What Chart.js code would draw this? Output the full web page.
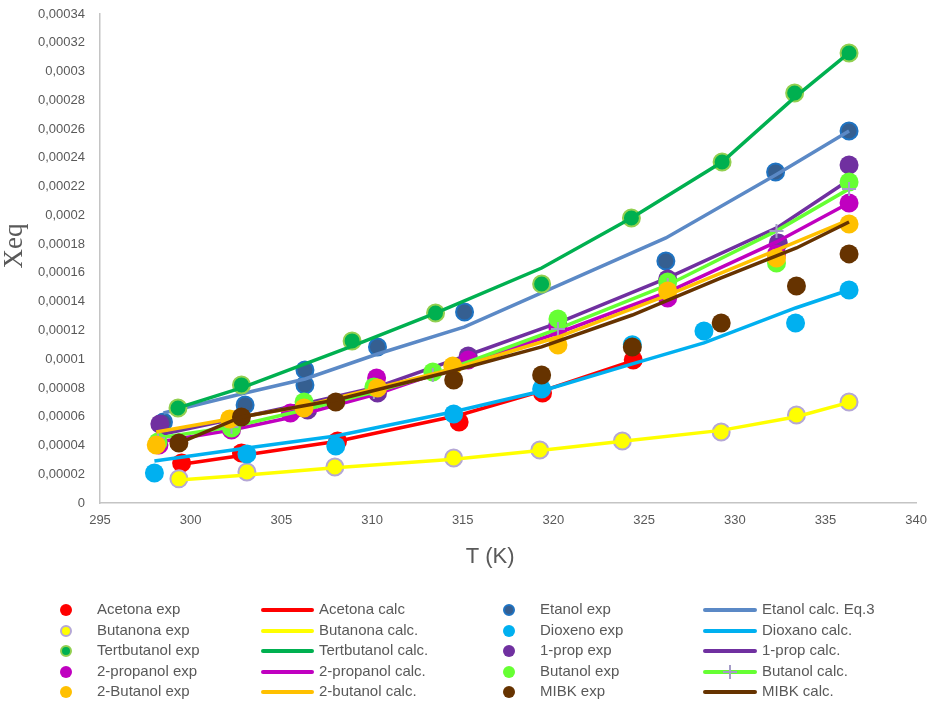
<!DOCTYPE html>
<html>
<head>
<meta charset="utf-8">
<script src="https://cdn.jsdelivr.net/npm/chart.js@4.4.1/dist/chart.umd.min.js"></script>
<style>
  body { margin: 0; background: #fff; }
  #wrap { position: relative; width: 937px; height: 704px; }
  #legend { position: absolute; left: 0; top: 0; width: 937px; height: 704px; }
  .lg-text { position: absolute; height: 20px; line-height: 20px; font: 15px "Liberation Sans", Arial, sans-serif; color: #595959; white-space: nowrap; }
  .lg-dot { position: absolute; width: 12px; height: 12px; border-radius: 50%; box-sizing: border-box; }
  .lg-line { position: absolute; height: 4px; border-radius: 2px; }
  .lg-plus { position: absolute; background: #a59cc8; }
</style>
</head>
<body>
<div id="wrap">
  <canvas id="myChart" width="937" height="590"></canvas>
  <div id="legend"></div>
</div>
<script>
// temperatures (K) and solubilities per solvent
const tAcetona = [299.5, 302.8, 308.1, 314.8, 319.4, 324.4];
const acetonaExp = [2.78e-5, 3.48e-5, 4.31e-5, 5.63e-5, 7.65e-5, 9.94e-5];
const acetonaCalc = [2.7e-5, 3.3e-5, 4.3e-5, 6.1e-5, 7.8e-5, 9.9e-5];

const tEtanol = [298.5, 303.0, 306.3, 306.3, 310.3, 315.1, 326.2, 332.25, 336.3];
const etanolExp = [5.63e-5, 6.81e-5, 8.21e-5, 9.25e-5, 1.085e-4, 1.328e-4, 1.683e-4, 2.302e-4, 2.587e-4];
const tEtanolCalc = [298.5, 303.0, 306.3, 310.3, 315.1, 326.2, 332.25, 336.3];
const etanolCalc = [6.26e-5, 7.65e-5, 8.62e-5, 1.036e-4, 1.224e-4, 1.843e-4, 2.281e-4, 2.587e-4];

const tButanona = [299.35, 303.1, 307.95, 314.5, 319.25, 323.8, 329.25, 333.4, 336.3];
const butanonaExp = [1.68e-5, 2.16e-5, 2.5e-5, 3.13e-5, 3.69e-5, 4.31e-5, 4.94e-5, 6.12e-5, 7.02e-5];
const butanonaCalc = [1.6e-5, 1.95e-5, 2.45e-5, 3.05e-5, 3.65e-5, 4.3e-5, 5.05e-5, 6.0e-5, 7.0e-5];

const tDioxano = [298.0, 303.1, 308.0, 314.5, 319.35, 324.35, 328.3, 333.35, 336.3];
const dioxenoExp = [2.09e-5, 3.41e-5, 3.96e-5, 6.19e-5, 7.93e-5, 1.1e-4, 1.196e-4, 1.252e-4, 1.481e-4];
const dioxanoCalc = [2.92e-5, 3.82e-5, 4.66e-5, 6.35e-5, 7.79e-5, 9.67e-5, 1.113e-4, 1.356e-4, 1.481e-4];

const tTertbutanol = [299.3, 302.8, 308.9, 313.5, 319.35, 324.3, 329.3, 333.3, 336.3];
const tertbutanolExp = [6.61e-5, 8.21e-5, 1.127e-4, 1.321e-4, 1.523e-4, 1.982e-4, 2.371e-4, 2.851e-4, 3.129e-4];
const tertbutanolCalc = [6.61e-5, 8.0e-5, 1.09e-4, 1.321e-4, 1.634e-4, 1.982e-4, 2.371e-4, 2.82e-4, 3.129e-4];

const t1prop = [298.3, 306.45, 310.3, 315.3, 320.25, 326.3, 332.4, 336.3];
const prop1Exp = [5.49e-5, 6.47e-5, 7.65e-5, 1.022e-4, 1.245e-4, 1.558e-4, 1.808e-4, 2.35e-4];
const prop1Calc = [4.75e-5, 6.95e-5, 8.07e-5, 1.029e-4, 1.252e-4, 1.565e-4, 1.919e-4, 2.246e-4];

const t2propanol = [298.25, 302.25, 305.5, 310.25, 315.3, 320.25, 326.3, 332.3, 336.3];
const propanol2Exp = [4.03e-5, 5.08e-5, 6.26e-5, 8.69e-5, 9.94e-5, 1.217e-4, 1.426e-4, 1.732e-4, 2.086e-4];
const propanol2Calc = [4.24e-5, 5.08e-5, 5.95e-5, 7.58e-5, 9.74e-5, 1.182e-4, 1.467e-4, 1.815e-4, 2.086e-4];

const tButanol = [298.2, 302.25, 306.25, 310.1, 313.35, 320.25, 326.3, 332.3, 336.3];
const butanolExp = [4.24e-5, 5.22e-5, 7.02e-5, 8.07e-5, 9.11e-5, 1.28e-4, 1.537e-4, 1.669e-4, 2.232e-4];
const butanolCalc = [4.52e-5, 5.29e-5, 6.47e-5, 7.72e-5, 8.9e-5, 1.21e-4, 1.516e-4, 1.892e-4, 2.184e-4];

const t2butanol = [298.1, 302.15, 306.25, 310.3, 314.45, 320.25, 326.3, 332.3, 336.3];
const butanol2Exp = [4.03e-5, 5.84e-5, 6.61e-5, 8.0e-5, 9.53e-5, 1.099e-4, 1.474e-4, 1.704e-4, 1.94e-4];
const butanol2Calc = [4.94e-5, 5.84e-5, 6.75e-5, 8.0e-5, 9.32e-5, 1.154e-4, 1.446e-4, 1.759e-4, 1.968e-4];

const tMibk = [299.35, 302.8, 308.0, 314.5, 319.35, 324.35, 329.25, 333.4, 336.3];
const mibkExp = [4.17e-5, 5.98e-5, 7.02e-5, 8.55e-5, 8.9e-5, 1.085e-4, 1.252e-4, 1.509e-4, 1.732e-4];
const mibkCalc = [4.17e-5, 5.98e-5, 7.16e-5, 9.2e-5, 1.085e-4, 1.307e-4, 1.565e-4, 1.773e-4, 1.954e-4];

const xTicks = { min: 295, max: 340, step: 5 };
const yTicks = { min: 0, max: 0.00034, step: 0.00002 };

const pts = (xs, ys) => xs.map((x, i) => ({ x: x, y: ys[i] }));

function exp(label, xs, ys, fill, border) {
  return {
    label: label,
    data: pts(xs, ys),
    showLine: false,
    backgroundColor: fill,
    borderColor: border || fill,
    pointRadius: border ? 8.5 : 9.5,
    pointBorderWidth: border ? 2 : 0,
    pointHoverRadius: 9.5
  };
}

function calc(label, xs, ys, color) {
  return {
    label: label,
    data: pts(xs, ys),
    showLine: true,
    borderColor: color,
    backgroundColor: color,
    borderWidth: 3.5,
    pointRadius: 0,
    tension: 0
  };
}

const butanolLine = calc('Butanol calc.', tButanol, butanolCalc, '#66ff33');
butanolLine.pointStyle = 'cross';
butanolLine.pointRadius = 7;
butanolLine.pointBorderColor = '#a59cc8';
butanolLine.pointBorderWidth = 2;

// legend reads row by row, four columns
const datasets = [
  exp('Acetona exp', tAcetona, acetonaExp, '#ff0000'),
  calc('Acetona calc', tAcetona, acetonaCalc, '#ff0000'),
  exp('Etanol exp', tEtanol, etanolExp, '#355f91', '#1f73c2'),
  calc('Etanol calc. Eq.3', tEtanolCalc, etanolCalc, '#5b89c6'),
  exp('Butanona exp', tButanona, butanonaExp, '#ffff00', '#b4a7d6'),
  calc('Butanona calc.', tButanona, butanonaCalc, '#ffff00'),
  exp('Dioxeno exp', tDioxano, dioxenoExp, '#00b0f0'),
  calc('Dioxano calc.', tDioxano, dioxanoCalc, '#00b0f0'),
  exp('Tertbutanol exp', tTertbutanol, tertbutanolExp, '#00b050', '#92d050'),
  calc('Tertbutanol calc.', tTertbutanol, tertbutanolCalc, '#00b050'),
  exp('1-prop exp', t1prop, prop1Exp, '#7030a0'),
  calc('1-prop calc.', t1prop, prop1Calc, '#7030a0'),
  exp('2-propanol exp', t2propanol, propanol2Exp, '#c000c0'),
  calc('2-propanol calc.', t2propanol, propanol2Calc, '#c000c0'),
  exp('Butanol exp', tButanol, butanolExp, '#66ff33'),
  butanolLine,
  exp('2-Butanol exp', t2butanol, butanol2Exp, '#ffc000'),
  calc('2-butanol calc.', t2butanol, butanol2Calc, '#ffc000'),
  exp('MIBK exp', tMibk, mibkExp, '#663300'),
  calc('MIBK calc.', tMibk, mibkCalc, '#663300')
];
// later series are painted on top
datasets.forEach((d, i) => { d.order = datasets.length - i; });

const tickFont = { family: '"Liberation Sans", Arial, sans-serif', size: 13 };
const grey = '#595959';

// axis titles, drawn by hand so they can sit off-centre
const axisTitles = {
  id: 'axisTitles',
  afterDraw(chart) {
    const { ctx, chartArea } = chart;
    ctx.save();
    ctx.fillStyle = grey;
    ctx.textAlign = 'center';
    ctx.textBaseline = 'middle';
    ctx.font = '22px "Liberation Sans", Arial, sans-serif';
    ctx.fillText('T (K)', (chartArea.left + chartArea.right) / 2 - 18, chartArea.bottom + 54);
    ctx.translate(15, chartArea.top + 232);
    ctx.rotate(-Math.PI / 2);
    ctx.font = '27px "Liberation Serif", "Times New Roman", serif';
    ctx.fillText('Xeq', 0, 0);
    ctx.restore();
  }
};

const config = {
  type: 'scatter',
  data: { datasets: datasets },
  options: {
    responsive: false,
    animation: false,
    layout: { padding: { top: 14, right: 20, left: 0, bottom: 0 } },
    plugins: { legend: { display: false }, tooltip: { enabled: false } },
    scales: {
      x: {
        type: 'linear',
        min: xTicks.min,
        max: xTicks.max,
        grid: { display: false, drawTicks: false },
        border: { display: true, color: '#c4c4c4', width: 1.5 },
        ticks: { stepSize: xTicks.step, color: grey, font: tickFont, padding: 10 },
        afterFit: s => { s.height = 87; }
      },
      y: {
        type: 'linear',
        min: yTicks.min,
        max: yTicks.max,
        grid: { display: false, drawTicks: false },
        border: { display: true, color: '#c4c4c4', width: 1.5 },
        ticks: {
          stepSize: yTicks.step, color: grey, font: tickFont, padding: 15,
          callback: v => String(Math.round(v * 1e6) / 1e6).replace('.', ',')
        },
        afterFit: s => {
          s.width = 100;
          s.paddingTop = 0;
          s.paddingBottom = 0;
        }
      }
    }
  },
  plugins: [axisTitles]
};

const canvasElement = document.getElementById('myChart');
const myChart = new Chart(canvasElement, config);

// legend grid under the chart
const legend = document.getElementById('legend');
const textX = [97, 319, 540, 762];
const dotX = [66, 509];
const lineX = [[261, 314], [703, 757]];
myChart.data.datasets.forEach((ds, i) => {
  const row = Math.floor(i / 4);
  const col = i % 4;
  const cy = 610 + row * 20.5;
  if (ds.showLine) {
    const [x0, x1] = lineX[(col - 1) / 2];
    const ln = document.createElement('div');
    ln.className = 'lg-line';
    ln.style.left = x0 + 'px';
    ln.style.width = (x1 - x0) + 'px';
    ln.style.top = (cy - 2) + 'px';
    ln.style.background = ds.borderColor;
    legend.appendChild(ln);
    if (ds.pointStyle === 'cross') {
      const mx = (x0 + x1) / 2;
      const h = document.createElement('div');
      h.className = 'lg-plus';
      Object.assign(h.style, { left: (mx - 7) + 'px', top: (cy - 1) + 'px', width: '14px', height: '2px' });
      const v = document.createElement('div');
      v.className = 'lg-plus';
      Object.assign(v.style, { left: (mx - 1) + 'px', top: (cy - 7) + 'px', width: '2px', height: '14px' });
      legend.appendChild(h);
      legend.appendChild(v);
    }
  } else {
    const dot = document.createElement('div');
    dot.className = 'lg-dot';
    dot.style.left = (dotX[col / 2] - 6) + 'px';
    dot.style.top = (cy - 6) + 'px';
    dot.style.background = ds.backgroundColor;
    if (ds.pointBorderWidth) dot.style.border = '2px solid ' + ds.borderColor;
    legend.appendChild(dot);
  }
  const tx = document.createElement('div');
  tx.className = 'lg-text';
  tx.style.left = textX[col] + 'px';
  tx.style.top = (cy - 10) + 'px';
  tx.textContent = ds.label;
  legend.appendChild(tx);
});
</script>
</body>
</html>
